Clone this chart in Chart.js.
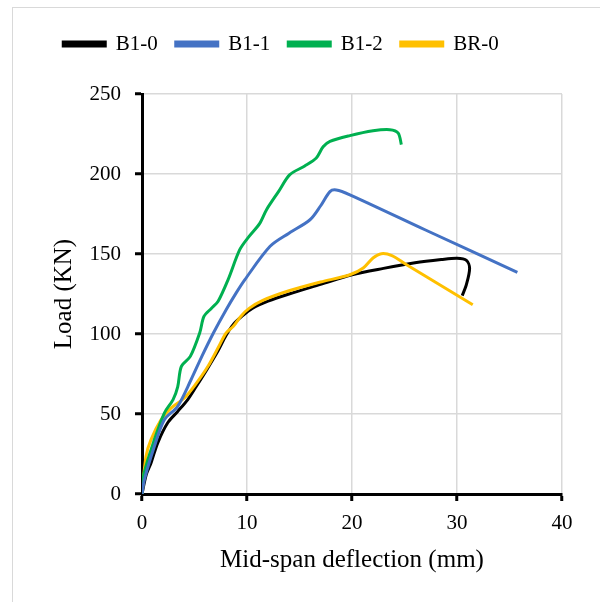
<!DOCTYPE html>
<html>
<head>
<meta charset="utf-8">
<script src="https://cdn.jsdelivr.net/npm/chart.js@4.4.1/dist/chart.umd.min.js"></script>
<style>
  body { margin: 0; background: #fff; }
  #wrap { position: relative; width: 600px; height: 602px; overflow: hidden; }
  #frame { position: absolute; left: 12px; top: 7px; width: 700px; height: 700px; border: 1px solid #d9d9d9; }
  #chart { position: absolute; left: 0; top: 0; }
</style>
</head>
<body>
<div id="wrap">
  <div id="frame"></div>
  <canvas id="chart" width="600" height="602"></canvas>
</div>
<script>
// load-deflection curves (x in mm, y in kN)
const b10X = [0, 0.4, 0.86, 1.5, 2.45, 3.4, 4.36, 5.15, 6.2, 7.2, 8.0, 8.7, 9.5, 10.5, 12, 14, 17, 20, 23, 26, 28.5, 30.0, 30.9, 31.2, 30.9, 30.5];
const b10Y = [0, 12, 19.4, 32, 44.5, 51.6, 59, 67, 78, 89, 99, 106, 111, 116, 120.5, 125, 131, 137, 141, 144.5, 146.5, 147.3, 146, 141, 131, 124];

const b11X = [0, 0.23, 1.18, 2.13, 3.4, 4.67, 5.7, 6.8, 8.0, 9.0, 9.8, 12.2, 14, 16, 17, 17.9, 18.5, 19.8, 27, 35.75];
const b11Y = [0, 9, 29.8, 46.4, 54.8, 71.4, 86, 100.6, 115, 126, 134, 154.8, 163, 171.4, 180, 189, 190, 187, 165, 138.5];

const b12X = [0, 0.2, 1.18, 2.13, 2.96, 3.4, 3.75, 4.6, 5.5, 5.9, 6.6, 7.25, 8.2, 9.31, 10.2, 11.2, 11.86, 13, 14.08, 15.5, 16.6, 17.25, 17.9, 19.8, 22, 23.6, 24.4, 24.7];
const b12Y = [0, 13, 34, 50.6, 59, 67, 79.8, 86, 100.8, 111, 116, 120.5, 134, 152.7, 161, 169, 177.7, 189, 199.6, 205, 210, 217, 220.4, 224, 227, 227.7, 225.6, 218.3];

const br0X = [0, 0.38, 0.86, 1.81, 2.76, 4.04, 5.15, 6.3, 7.3, 8.0, 8.7, 9.4, 10.2, 11.5, 14, 17, 19.8, 21.07, 22.0, 22.8, 23.8, 25.2, 31.5];
const br0Y = [0, 23.5, 34, 46.4, 53.7, 60, 69, 80, 92, 100.6, 104.8, 111, 116, 121, 127, 132.5, 137, 141.2, 147.5, 150.2, 149, 143.3, 118.3];

const seriesNames = ["B1-0", "B1-1", "B1-2", "BR-0"];
const seriesColors = ["#000000", "#4472c4", "#00b050", "#ffc000"];
const xTicks = [0, 10, 20, 30, 40];
const yTicks = [0, 50, 100, 150, 200, 250];

const serif = "'Liberation Serif', 'Times New Roman', serif";

function toPoints(xs, ys) {
    return xs.map((x, i) => ({ x: x, y: ys[i] }));
}

const allX = [b10X, b11X, b12X, br0X];
const allY = [b10Y, b11Y, b12Y, br0Y];

// black sits under the others, like in the picture
const datasets = seriesNames.map((name, i) => ({
    label: name,
    data: toPoints(allX[i], allY[i]),
    borderColor: seriesColors[i],
    backgroundColor: seriesColors[i],
    borderWidth: 3,
    pointRadius: 0,
    tension: 0.3,
    fill: false,
    order: i === 0 ? 1 : 0
}));

// push the plot area down below the legend
const legendSpacer = {
    id: "legendSpacer",
    beforeInit(chart) {
        const fit = chart.legend.fit;
        chart.legend.fit = function () {
            fit.bind(chart.legend)();
            this.height += 29.5;
        };
    }
};

function axisStyle(title, titlePad) {
    return {
        type: "linear",
        grid: {
            color: "#d9d9d9",
            lineWidth: 1.5,
            tickColor: "#000",
            tickWidth: 3,
            tickLength: 7
        },
        border: { color: "#000", width: 3 },
        ticks: {
            color: "#000",
            font: { family: serif, size: 21 }
        },
        title: {
            display: true,
            text: title,
            color: "#000",
            font: { family: serif, size: 25, lineHeight: 1.2 },
            padding: titlePad
        }
    };
}

const xScale = axisStyle("Mid-span deflection (mm)", { top: 0, bottom: 27 });
xScale.min = 0;
xScale.max = 40;
xScale.ticks.stepSize = 10;
xScale.ticks.padding = 10;
xScale.afterBuildTicks = (scale) => { scale.ticks = xTicks.map(v => ({ value: v })); };
xScale.afterFit = (scale) => { scale.height = 108; };

const yScale = axisStyle("Load (KN)", { top: 49, bottom: 0 });
yScale.min = 0;
yScale.max = 250;
yScale.ticks.stepSize = 50;
yScale.ticks.padding = 14;
yScale.afterBuildTicks = (scale) => { scale.ticks = yTicks.map(v => ({ value: v })); };
yScale.afterFit = (scale) => { scale.width = 142; };

const chart = new Chart("chart", {
    type: "line",
    data: { datasets: datasets },
    options: {
        responsive: false,
        animation: false,
        layout: { padding: { left: 0, top: 15.5, right: 38, bottom: 0 } },
        plugins: {
            legend: {
                position: "top",
                labels: {
                    color: "#000",
                    font: { family: serif, size: 21 },
                    boxWidth: 42,
                    boxHeight: 4,
                    padding: 18,
                    sort: (a, b) => a.datasetIndex - b.datasetIndex
                }
            },
            tooltip: { enabled: false }
        },
        scales: { x: xScale, y: yScale }
    },
    plugins: [legendSpacer]
});
</script>
</body>
</html>
